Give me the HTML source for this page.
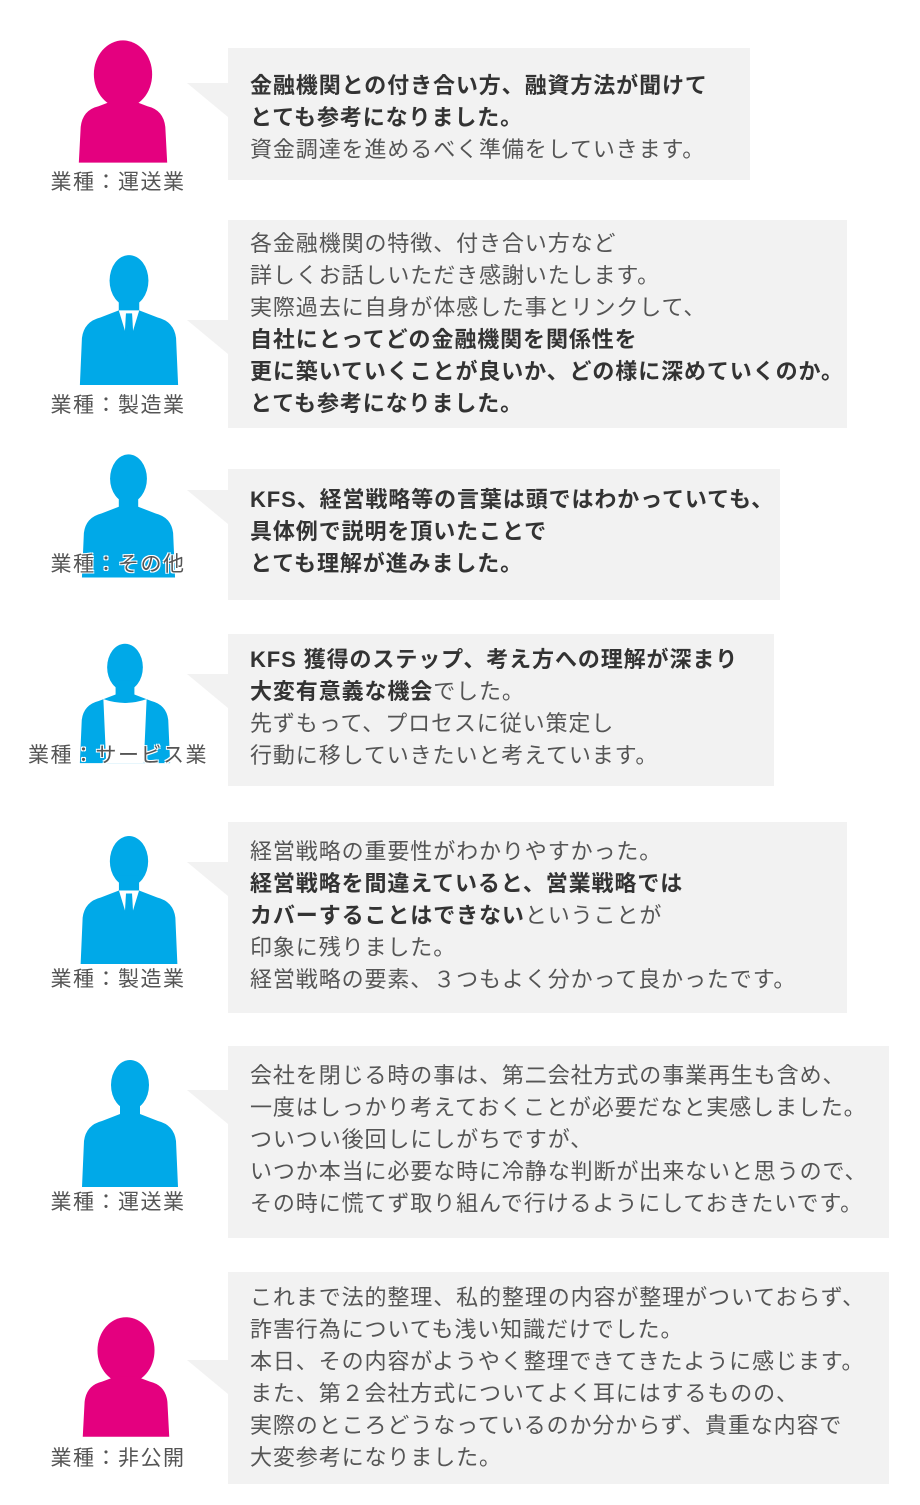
<!DOCTYPE html>
<html><head><meta charset="utf-8">
<style>
body{margin:0;width:920px;height:1505px;background:#fff;position:relative;overflow:hidden;font-family:"Liberation Sans","Noto Sans CJK JP",sans-serif;}
.box{position:absolute;left:228px;background:#f2f2f2;}
.tail{position:absolute;width:0;height:0;border-top:34px solid #f2f2f2;border-left:41px solid transparent;left:187px;}
.t{position:absolute;left:250px;font-size:22px;letter-spacing:0.9px;color:#555;white-space:nowrap;line-height:32px;}
.t b{color:#333;font-weight:700;}
.lab{position:absolute;width:236px;left:0;text-align:center;font-size:21px;letter-spacing:1.5px;color:#555;line-height:24px;text-shadow:-1px -1px 0 #fff,1px -1px 0 #fff,-1px 1px 0 #fff,1px 1px 0 #fff;}
svg{position:absolute;}
</style></head><body>

<div class="box" style="top:48px;width:522px;height:132px"></div><div class="tail" style="top:83px"></div>
<div class="box" style="top:220px;width:619px;height:208px"></div><div class="tail" style="top:320px"></div>
<div class="box" style="top:469px;width:552px;height:131px"></div><div class="tail" style="top:490px"></div>
<div class="box" style="top:634px;width:546px;height:152px"></div><div class="tail" style="top:674px"></div>
<div class="box" style="top:822px;width:619px;height:191px"></div><div class="tail" style="top:862px"></div>
<div class="box" style="top:1046px;width:661px;height:192px"></div><div class="tail" style="top:1090px"></div>
<div class="box" style="top:1272px;width:661px;height:212px"></div><div class="tail" style="top:1360px"></div>

<div class="t" style="top:70px"><b>金融機関との付き合い方、融資方法が聞けて</b><br><b>とても参考になりました。</b><br>資金調達を進めるべく準備をしていきます。</div>
<div class="t" style="top:228px">各金融機関の特徴、付き合い方など<br>詳しくお話しいただき感謝いたします。<br>実際過去に自身が体感した事とリンクして、<br><b>自社にとってどの金融機関を関係性を</b><br><b>更に築いていくことが良いか、どの様に深めていくのか。</b><br><b>とても参考になりました。</b></div>
<div class="t" style="top:484px"><b>KFS、経営戦略等の言葉は頭ではわかっていても、</b><br><b>具体例で説明を頂いたことで</b><br><b>とても理解が進みました。</b></div>
<div class="t" style="top:644px"><b>KFS 獲得のステップ、考え方への理解が深まり</b><br><b>大変有意義な機会</b>でした。<br>先ずもって、プロセスに従い策定し<br>行動に移していきたいと考えています。</div>
<div class="t" style="top:836px">経営戦略の重要性がわかりやすかった。<br><b>経営戦略を間違えていると、営業戦略では</b><br><b>カバーすることはできない</b>ということが<br>印象に残りました。<br>経営戦略の要素、３つもよく分かって良かったです。</div>
<div class="t" style="top:1060px">会社を閉じる時の事は、第二会社方式の事業再生も含め、<br>一度はしっかり考えておくことが必要だなと実感しました。<br>ついつい後回しにしがちですが、<br>いつか本当に必要な時に冷静な判断が出来ないと思うので、<br>その時に慌てず取り組んで行けるようにしておきたいです。</div>
<div class="t" style="top:1282px">これまで法的整理、私的整理の内容が整理がついておらず、<br>詐害行為についても浅い知識だけでした。<br>本日、その内容がようやく整理できてきたように感じます。<br>また、第２会社方式についてよく耳にはするものの、<br>実際のところどうなっているのか分からず、貴重な内容で<br>大変参考になりました。</div>

<svg style="left:76px;top:37px" width="94" height="129" viewBox="0 0 100 130"><ellipse cx="50" cy="36" rx="31" ry="36" fill="#e4007f"/><rect x="40" y="55" width="20" height="25" fill="#e4007f"/><path d="M3 130 L5 92 Q7 74 24 70 L40 64 L60 64 L76 70 Q93 74 95 92 L97 130Z" fill="#e4007f"/></svg>

<svg style="left:77px;top:252px" width="104" height="133" viewBox="0 0 100 130"><ellipse cx="50" cy="28" rx="19" ry="25" fill="#00a9e8"/><rect x="40" y="42" width="20" height="22" fill="#00a9e8"/><path d="M2 130 L4 84 Q6 68 22 64 L40 57 L60 57 L78 64 Q94 68 96 84 L98 130Z" fill="#00a9e8"/><polygon points="40,57 50,90 60,57" fill="#fff"/><polygon points="47,60 53,60 55,95 50,104 45,95" fill="#00a9e8"/></svg>

<svg style="left:80px;top:449px" width="97" height="131" viewBox="0 0 100 130"><ellipse cx="50" cy="28" rx="19" ry="25" fill="#00a9e8"/><rect x="40" y="42" width="20" height="22" fill="#00a9e8"/><path d="M2 130 L4 84 Q6 68 22 64 L40 57 L60 57 L78 64 Q94 68 96 84 L98 130Z" fill="#00a9e8"/></svg>

<svg style="left:78px;top:634px" width="94" height="136" viewBox="0 0 100 130"><ellipse cx="50" cy="28" rx="19" ry="25" fill="#00a9e8"/><rect x="40" y="42" width="20" height="22" fill="#00a9e8"/><path d="M2 130 L4 84 Q6 68 22 64 L40 57 L60 57 L78 64 Q94 68 96 84 L98 130Z" fill="#00a9e8"/><path d="M27 62 Q50 70 73 62 L70 130 L30 130Z" fill="#fff"/></svg>

<svg style="left:77px;top:833px" width="104" height="131" viewBox="0 0 100 130"><ellipse cx="50" cy="28" rx="19" ry="25" fill="#00a9e8"/><rect x="40" y="42" width="20" height="22" fill="#00a9e8"/><path d="M2 130 L4 84 Q6 68 22 64 L40 57 L60 57 L78 64 Q94 68 96 84 L98 130Z" fill="#00a9e8"/><polygon points="40,57 50,90 60,57" fill="#fff"/><polygon points="47,60 53,60 55,95 50,104 45,95" fill="#00a9e8"/></svg>

<svg style="left:78px;top:1057px" width="104" height="130" viewBox="0 0 100 130"><ellipse cx="50" cy="28" rx="19" ry="25" fill="#00a9e8"/><rect x="40" y="42" width="20" height="22" fill="#00a9e8"/><path d="M2 130 L4 84 Q6 68 22 64 L40 57 L60 57 L78 64 Q94 68 96 84 L98 130Z" fill="#00a9e8"/></svg>

<svg style="left:80px;top:1312px" width="92" height="130" viewBox="0 0 100 130"><ellipse cx="50" cy="36" rx="31" ry="36" fill="#e4007f"/><rect x="40" y="55" width="20" height="25" fill="#e4007f"/><path d="M3 130 L5 92 Q7 74 24 70 L40 64 L60 64 L76 70 Q93 74 95 92 L97 130Z" fill="#e4007f"/></svg>

<div class="lab" style="top:171px">業種：運送業</div>
<div class="lab" style="top:394px">業種：製造業</div>
<div class="lab" style="top:553px">業種：その他</div>
<div class="lab" style="top:744px">業種：サービス業</div>
<div class="lab" style="top:968px">業種：製造業</div>
<div class="lab" style="top:1191px">業種：運送業</div>
<div class="lab" style="top:1447px">業種：非公開</div>
</body></html>
